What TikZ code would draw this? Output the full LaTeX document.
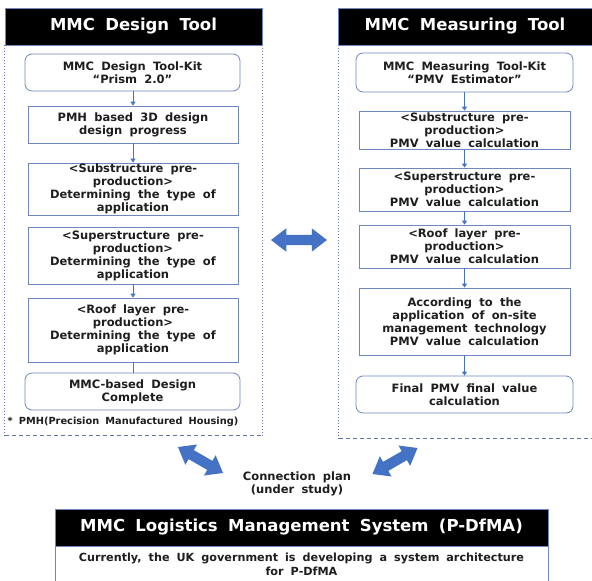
\documentclass[tikz,border=0pt]{standalone}
\usepackage{fontspec}
\setmainfont{DejaVu Sans}[WordSpace=1.8]
\usetikzlibrary{shapes.arrows,arrows.meta}
\definecolor{boxblue}{RGB}{110,135,190}
\definecolor{dotblue}{RGB}{100,115,165}
\definecolor{arrblue}{RGB}{68,114,196}
\definecolor{txt}{RGB}{30,30,30}
\begin{document}
\begin{tikzpicture}[x=1pt,y=-1pt,
  body/.style={font=\fontsize{11.5}{13}\selectfont\bfseries, text=txt, align=center, inner sep=0pt},
  rectbox/.style={body, draw=boxblue, line width=0.8pt, fill=white},
  roundbox/.style={rectbox, rounded corners=7pt},
  header/.style={fill=black, draw=boxblue, line width=0.6pt, text=white, font=\fontsize{16.5}{19}\selectfont\bfseries, inner sep=0pt},
  link/.style={draw=arrblue, line width=0.8pt, -{Triangle[width=5pt,length=4pt]}},
  plainlink/.style={draw=arrblue, line width=0.8pt},
  bigarrow/.style={double arrow, fill=arrblue, draw=none, inner xsep=0pt, inner ysep=5pt, minimum height=52pt, minimum width=23pt, double arrow head extend=6.5pt, double arrow tip angle=75, double arrow head indent=0pt},
  vdots/.style={draw=dotblue, line width=0.8pt, dash pattern=on 1.2pt off 1.8pt},
  hdash/.style={draw=dotblue, line width=0.8pt, dash pattern=on 4pt off 3pt},
]
\useasboundingbox (0,0) rectangle (592,581);
\fill[white] (0,0) rectangle (592,581);

% containers
\node[inner sep=0pt, minimum width=257pt, minimum height=390pt] (c1) at (133.5,240) {};
\draw[vdots] (c1.north west) -- (c1.south west);
\draw[vdots] (c1.north east) -- (c1.south east);
\draw[hdash] (c1.south west) -- (c1.south east);
\node[inner sep=0pt, minimum width=254pt, minimum height=393pt] (c2) at (466,241.5) {};
\draw[vdots] (c2.north west) -- (c2.south west);
\draw[hdash] (c2.south west) -- (c2.south east);

% headers
\node[header, minimum width=257pt, minimum height=37pt] (h1) at (133.5,26.5) {MMC Design Tool};
\node[header, minimum width=254pt, minimum height=37pt] (h2) at (465,26.5) {MMC Measuring Tool};

% left column
\node[roundbox, minimum width=215pt, minimum height=37pt] (l1) at (132.5,72.5) {MMC Design Tool-Kit\\“Prism 2.0”};
\node[rectbox, minimum width=210pt, minimum height=37pt] (l2) at (133,124.5) {PMH based 3D design\\design progress};
\node[rectbox, minimum width=210pt, minimum height=52pt] (l3) at (133,189) {<Substructure pre-\\production>\\Determining the type of\\application};
\node[rectbox, minimum width=210pt, minimum height=57pt] (l4) at (133,255.5) {<Superstructure pre-\\production>\\Determining the type of\\application};
\node[rectbox, minimum width=210pt, minimum height=64pt] (l5) at (133,330) {<Roof layer pre-\\production>\\Determining the type of\\application};
\node[roundbox, minimum width=215pt, minimum height=37pt] (l6) at (132.5,391.5) {MMC-based Design\\Complete};
\node[body, font=\fontsize{9.8}{11}\selectfont\bfseries] (fn) at (123,422) {* PMH(Precision Manufactured Housing)};

\draw[link] (l2.north |- l1.south) -- (l2.north);
\draw[link] (l2.south) -- (l3.north);
\draw[link] (l4.south) -- (l5.north);
\draw[plainlink] (l5.south) -- (l5.south |- l6.north);

% right column
\node[roundbox, minimum width=217pt, minimum height=39pt] (r1) at (464.5,72.5) {MMC Measuring Tool-Kit\\“PMV Estimator”};
\node[rectbox, minimum width=211pt, minimum height=38pt] (r2) at (464.5,130) {<Substructure pre-\\production>\\PMV value calculation};
\node[rectbox, minimum width=211pt, minimum height=43pt] (r3) at (464.5,189.5) {<Superstructure pre-\\production>\\PMV value calculation};
\node[rectbox, minimum width=211pt, minimum height=43pt] (r4) at (464.5,246.5) {<Roof layer pre-\\production>\\PMV value calculation};
\node[rectbox, minimum width=211pt, minimum height=67pt] (r5) at (464.5,321.5) {According to the\\application of on-site\\management technology\\PMV value calculation};
\node[roundbox, minimum width=217pt, minimum height=37pt] (r6) at (464.5,394.5) {Final PMV final value\\calculation};

\draw[link] (r1) -- (r2);
\draw[link] (r2) -- (r3);
\draw[link] (r3) -- (r4);
\draw[link] (r4) -- (r5);
\draw[link] (r5) -- (r6);

% big arrows
\node[bigarrow, minimum height=56pt] (m) at (299,240) {};
\node[bigarrow, rotate=-30] (d1) at (200.5,460) {};
\node[bigarrow, rotate=30] (d2) at (395,461) {};

\node[body] (cp) at (297,484) {Connection plan\\(under study)};

% bottom system
\node[header, minimum width=493pt, minimum height=37pt] (bh) at (301.5,527.5) {MMC Logistics Management System (P-DfMA)};
\node[body, font=\fontsize{11.2}{13.5}\selectfont\bfseries, draw=boxblue, line width=0.6pt, minimum width=493pt, minimum height=37pt] (bb) at (301.5,564.5) {Currently, the UK government is developing a system architecture\\for P-DfMA};
\end{tikzpicture}
\end{document}
